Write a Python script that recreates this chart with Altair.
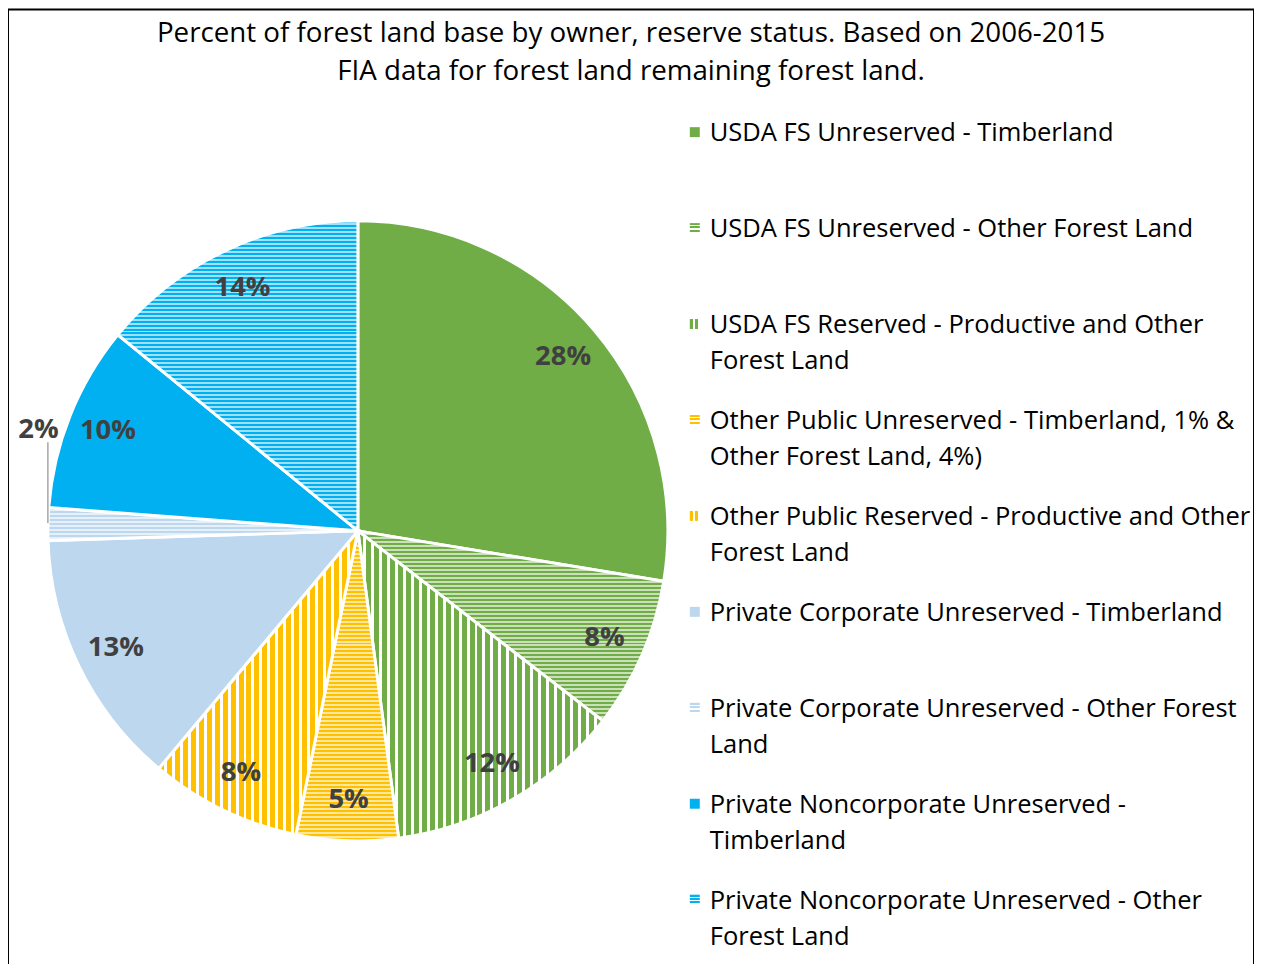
import math
import altair as alt
import pandas as pd

# ---------------- data ----------------
title_lines = [
    "Percent of forest land base by owner, reserve status. Based on 2006-2015",
    "FIA data for forest land remaining forest land.",
]
categories = [
    "USDA FS Unreserved - Timberland",
    "USDA FS Unreserved - Other Forest Land",
    "USDA FS Reserved - Productive and Other Forest Land",
    "Other Public Unreserved - Timberland, 1% & Other Forest Land, 4%)",
    "Other Public Reserved - Productive and Other Forest Land",
    "Private Corporate Unreserved - Timberland",
    "Private Corporate Unreserved - Other Forest Land",
    "Private Noncorporate Unreserved  - Timberland",
    "Private Noncorporate Unreserved - Other Forest Land",
]
legend_lines = [
    "USDA FS Unreserved - Timberland",
    "USDA FS Unreserved - Other Forest Land",
    "USDA FS Reserved - Productive and Other\nForest Land",
    "Other Public Unreserved - Timberland, 1% &\nOther Forest Land, 4%)",
    "Other Public Reserved - Productive and Other\nForest Land",
    "Private Corporate Unreserved - Timberland",
    "Private Corporate Unreserved - Other Forest\nLand",
    "Private Noncorporate Unreserved  -\nTimberland",
    "Private Noncorporate Unreserved - Other\nForest Land",
]
values = [27.6, 7.9, 12.4, 5.3, 7.9, 13.4, 1.7, 9.7, 14.1]
pct_labels = ["28%", "8%", "12%", "5%", "8%", "13%", "2%", "10%", "14%"]
label_outside = [False, False, False, False, False, False, True, False, False]

# ---------------- styles ----------------
GREEN, ORANGE, LBLUE, BLUE = "#70AD47", "#FFC000", "#BDD7EE", "#00B0F0"
base_colors = [GREEN, GREEN, GREEN, ORANGE, ORANGE, LBLUE, LBLUE, BLUE, BLUE]
patterns = ["solid", "dash", "vstripe", "dash", "vstripe", "solid", "dash", "solid", "dash"]
R = 311
CX, CY = 351, 523


def mix(c, w):
    r, g, b = int(c[1:3], 16), int(c[3:5], 16), int(c[5:7], 16)
    r, g, b = [round(v + (255 - v) * w) for v in (r, g, b)]
    return "#%02x%02x%02x" % (r, g, b)


def stripes(color, light, size, period, on, vertical):
    n = math.ceil(size / period)
    stops = []
    for i in range(n):
        s = min(i * period / size, 1)
        m = min((i * period + on) / size, 1)
        e = min((i + 1) * period / size, 1)
        stops += [{"offset": s, "color": color}, {"offset": m, "color": color},
                  {"offset": m, "color": light}, {"offset": e, "color": light}]
    return {"gradient": "linear", "x1": 0, "y1": 0,
            "x2": 1 if vertical else 0, "y2": 0 if vertical else 1, "stops": stops}


def wedge_bbox(a0, a1):
    pts = [(0.0, 0.0)]
    for a in [a0, a1] + [k * math.pi / 2 for k in range(5) if a0 < k * math.pi / 2 < a1]:
        pts.append((R * math.sin(a), -R * math.cos(a)))
    xs = [p[0] for p in pts]
    ys = [p[1] for p in pts]
    return max(xs) - min(xs), max(ys) - min(ys)


total = sum(values)
cum = 0.0
slice_fills, legend_fills = [], []
for v, c, p in zip(values, base_colors, patterns):
    a0 = cum / total * 2 * math.pi
    cum += v
    a1 = cum / total * 2 * math.pi
    w, h = wedge_bbox(a0, a1)
    if p == "solid":
        slice_fills.append(c)
        legend_fills.append(c)
    elif p == "vstripe":
        slice_fills.append(stripes(c, "#ffffff", w, 8, 5, True))
        legend_fills.append(stripes(c, "#ffffff", 10, 5, 3, True))
    else:
        slice_fills.append(stripes(c, mix(c, 0.62), h, 4, 2, False))
        legend_fills.append(stripes(c, "#ffffff", 10, 3.4, 2, False))


def fill_enc(fills):
    return alt.FillValue(
        value=fills[0] if isinstance(fills[0], str) else "#999999",
        condition=[{"test": f"datum.order == {i}", "value": f} for i, f in enumerate(fills)],
    )


df = pd.DataFrame({
    "order": list(range(len(categories))),
    "category": categories,
    "legend": legend_lines,
    "value": values,
    "pct": pct_labels,
    "inner": [("" if o else t) for t, o in zip(pct_labels, label_outside)],
    "outer": [(t if o else "") for t, o in zip(pct_labels, label_outside)],
})
title_df = pd.DataFrame({"t": ["\n".join(title_lines)]})

FONT = "Open Sans"

base = alt.Chart(df)

arcs = base.mark_arc(radius=R, stroke="white", strokeWidth=3).encode(
    theta=alt.Theta("value:Q", stack=True),
    order=alt.Order("order:Q"),
    x=alt.value(CX), y=alt.value(CY),
    fill=fill_enc(slice_fills),
)

inner_labels = base.mark_text(radius=270, font=FONT, fontSize=27.5, fontWeight="bold",
                              color="#404040").encode(
    theta=alt.Theta("value:Q", stack=True),
    order=alt.Order("order:Q"),
    x=alt.value(CX), y=alt.value(CY),
    text="inner:N",
)

outer_labels = base.mark_text(radius=336, thetaOffset=0.283, font=FONT, fontSize=27.5,
                              fontWeight="bold", color="#404040").encode(
    theta=alt.Theta("value:Q", stack=True),
    order=alt.Order("order:Q"),
    x=alt.value(CX), y=alt.value(CY),
    text="outer:N",
)

leader = alt.Chart(title_df).mark_rule(color="#a6a6a6", strokeWidth=1.5).encode(
    x=alt.value(40), y=alt.value(434), y2=alt.value(515)
)

ypos = alt.Y("order:O", axis=None, scale=alt.Scale(type="point", range=[123, 893], padding=0))

leg_sym = base.mark_square(size=100, opacity=1).encode(
    x=alt.value(689), y=ypos, fill=fill_enc(legend_fills)
)
leg_txt = base.mark_text(align="left", baseline="alphabetic", dy=9, font=FONT, fontSize=25.6,
                         lineBreak="\n", lineHeight=36, color="#000000").encode(
    x=alt.value(704), y=ypos, text="legend:N"
)

title = alt.Chart(title_df).mark_text(align="center", baseline="alphabetic", font=FONT,
                                      fontSize=27.8, lineBreak="\n", lineHeight=38,
                                      color="#000000").encode(
    x=alt.value(625), y=alt.value(33), text="t:N"
)

chart = alt.layer(arcs, inner_labels, outer_labels, leader, leg_sym, leg_txt, title).properties(
    width=1250, height=960, padding=0, autosize="none"
).configure_view(stroke="black", strokeWidth=2)

chart.save("out.html", embed_options={"renderer": "svg", "actions": False})
